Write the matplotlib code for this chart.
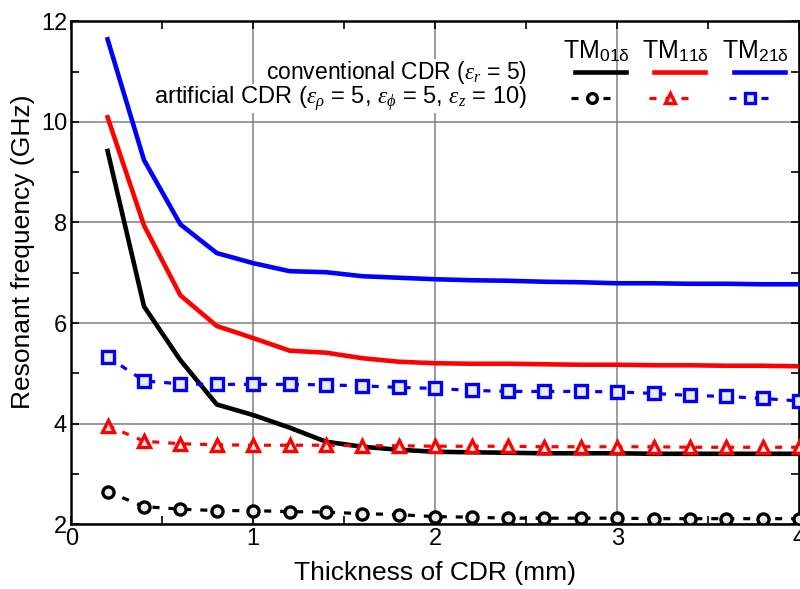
import numpy as np
import matplotlib
matplotlib.use('Agg')
import matplotlib.pyplot as plt
from matplotlib.lines import Line2D

plt.rcParams['font.family'] = ['Liberation Sans', 'DejaVu Sans']
plt.rcParams['mathtext.fontset'] = 'custom'
plt.rcParams['mathtext.rm'] = 'Liberation Sans'
plt.rcParams['mathtext.it'] = 'Liberation Serif:italic'

# thickness of CDR (mm)
thickness = [0.2, 0.4, 0.6, 0.8, 1.0, 1.2, 1.4, 1.6, 1.8, 2.0,
             2.2, 2.4, 2.6, 2.8, 3.0, 3.2, 3.4, 3.6, 3.8, 4.0]

# conventional CDR (solid lines)
conv_tm01 = [9.42, 6.33, 5.26, 4.38, 4.17, 3.92, 3.64, 3.54, 3.48, 3.44,
             3.43, 3.42, 3.41, 3.41, 3.41, 3.40, 3.40, 3.40, 3.40, 3.40]
conv_tm11 = [10.09, 7.94, 6.55, 5.94, 5.70, 5.45, 5.41, 5.30, 5.23, 5.20,
             5.19, 5.19, 5.18, 5.17, 5.17, 5.16, 5.16, 5.15, 5.15, 5.14]
conv_tm21 = [11.64, 9.24, 7.96, 7.39, 7.19, 7.03, 7.01, 6.93, 6.90, 6.87,
             6.85, 6.84, 6.82, 6.81, 6.79, 6.79, 6.78, 6.78, 6.77, 6.77]

# artificial CDR (dashed lines with markers)
art_tm01 = [2.65, 2.35, 2.30, 2.27, 2.27, 2.25, 2.24, 2.21, 2.19, 2.15,
            2.14, 2.12, 2.12, 2.12, 2.12, 2.11, 2.11, 2.11, 2.11, 2.11]
art_tm11 = [3.96, 3.65, 3.60, 3.58, 3.57, 3.57, 3.57, 3.56, 3.56, 3.55,
            3.55, 3.55, 3.54, 3.54, 3.54, 3.54, 3.53, 3.53, 3.53, 3.53]
art_tm21 = [5.33, 4.85, 4.79, 4.78, 4.78, 4.78, 4.77, 4.75, 4.72, 4.70,
            4.66, 4.64, 4.64, 4.64, 4.63, 4.60, 4.56, 4.54, 4.50, 4.45]

mode_labels = [r'TM$_{\mathrm{01δ}}$', r'TM$_{\mathrm{11δ}}$', r'TM$_{\mathrm{21δ}}$']
colors = ['black', '#ff0000', '#0000ff']
markers = ['o', '^', 's']

fig = plt.figure(figsize=(8, 5.89), dpi=100)
ax = fig.add_axes([0.089, 0.110, 0.910, 0.854])

conv = [conv_tm01, conv_tm11, conv_tm21]
art = [art_tm01, art_tm11, art_tm21]
dash_kw = dict(linestyle=(0, (2.2, 2.8)), linewidth=2.3,
               markeredgewidth=2.4, markerfacecolor='#ececec')

for c, col in zip(conv, colors):
    ax.plot(thickness, c, color=col, linewidth=3.3, zorder=3)
for a, col, m in zip(art, colors, markers):
    ax.plot(thickness, a, color=col, marker=m, markersize=8, zorder=3,
            **dash_kw)

ax.set_xlim(0, 4)
ax.set_ylim(2, 12)
ax.set_xticks([0, 1, 2, 3, 4])
ax.set_yticks([2, 4, 6, 8, 10, 12])
ax.set_xticks(np.arange(0, 4.01, 0.5), minor=True)
ax.set_yticks(np.arange(2, 12.01, 1), minor=True)
ax.tick_params(which='both', direction='in', top=True, right=True,
               labelsize=17, pad=3)
ax.tick_params(which='major', length=6, width=1.2)
ax.tick_params(which='minor', length=6, width=1.2)
ax.grid(True, which='major', color='#808080', linewidth=1.1)
ax.set_axisbelow(True)
for s in ax.spines.values():
    s.set_linewidth(1.8)

ax.set_xlabel('Thickness of CDR (mm)', fontsize=19, labelpad=8)
ax.set_ylabel('Resonant frequency (GHz)', fontsize=19)
ax.yaxis.set_label_coords(-0.050, 0.541)

# custom legend block (top right)
row_y = [0.899, 0.847]
col_x = [0.727, 0.835, 0.945]
seg = 0.035
txt_kw = dict(transform=ax.transAxes, ha='right', va='center',
              bbox=dict(facecolor='white', edgecolor='none', pad=0))
ax.text(0.626, row_y[0], r'conventional CDR ($\varepsilon_r$ = 5)',
        fontsize=16.5, **txt_kw)
ax.text(0.626, row_y[1],
        r'artificial CDR ($\varepsilon_\rho$ = 5, $\varepsilon_\phi$ = 5, $\varepsilon_z$ = 10)',
        fontsize=17, **txt_kw)
for cx, lab, col, m in zip(col_x, mode_labels, colors, markers):
    ax.text(cx - 0.005, 0.940, lab, transform=ax.transAxes, ha='center',
            va='center', fontsize=18)
    ax.add_line(Line2D([cx - seg, cx + seg], [row_y[0]] * 2, color=col,
                       linewidth=3.3, transform=ax.transAxes, zorder=4))
    ax.add_line(Line2D([cx - seg - 0.006, cx + seg - 0.012], [row_y[1]] * 2,
                       color=col, transform=ax.transAxes, zorder=4, **dash_kw))
    ax.add_line(Line2D([cx - 0.012], [row_y[1]], color=col, marker=m,
                       linestyle='none', markersize=7, markeredgewidth=2.4,
                       markerfacecolor='#ececec', transform=ax.transAxes,
                       zorder=5))

fig.savefig('out.png', dpi=100)
